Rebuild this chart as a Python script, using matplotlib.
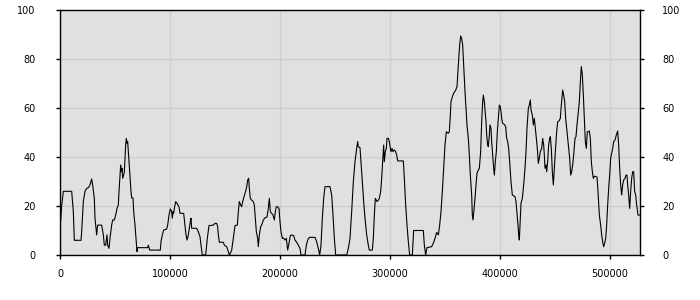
import matplotlib
matplotlib.use("Agg")
import matplotlib.pyplot as plt

positions = [
    0, 1515, 3030, 10606, 12121, 13030, 19091, 19697, 21212, 22727, 24242, 25758, 27273, 28788, 29697,
    31212, 31818, 33333, 34242, 37879, 39394, 40303, 41515, 42727, 43333, 44545, 45455, 46970, 47879,
    49394, 50606, 51818, 53030, 53636, 54545, 55152, 55758, 56364, 56970, 57879, 58485, 59091, 59697,
    60303, 60909, 61515, 62121, 63333, 64545, 65152, 66364, 66970, 68182, 69091, 70000, 70606, 79697,
    80303, 81515, 91212, 91818, 93030, 94242, 96970, 97879, 99091, 100303, 101515, 102121, 102727,
    103333, 103939, 105152, 106364, 108182, 109091, 112424, 113636, 114545, 115455, 116667, 117576,
    118485, 119091, 119697, 124242, 125758, 127273, 128182, 129394,
    130303, 132424, 133939, 135455, 139394, 140909, 142424, 143333, 143939, 144848, 148485, 149394,
    151515, 153030, 153939, 154848, 156061, 157576, 159091, 161212, 162121, 163030, 164242, 165152,
    166061, 167273, 168182, 169091, 170000, 170606, 171515, 172121, 173030, 174242, 175758, 176667,
    177576, 178485, 179697, 180303, 181212, 182424, 183333, 184848, 186364, 188182, 189394, 190303,
    191212, 192424, 193636, 194848, 195758, 196667, 197879, 199091, 200000, 200909, 202121, 203030,
    204545, 205758, 206970, 208182, 209394, 210606, 212424, 213636, 215152, 216667, 218182, 219091,
    222727, 223939, 225152, 226667, 231818, 233333, 234848, 236061, 237273, 238485, 239697, 240909,
    245455, 246970, 248182, 249394, 250606,
    260606, 262121, 263636, 265152, 266667, 268182, 269697, 270606, 271212, 272727, 273636, 274848,
    276061, 277273, 278788, 280303, 281212, 283939, 284848, 285758, 286667, 288182, 289394, 290303,
    291515, 292424, 293333, 294242, 294848, 295758, 296667, 297273, 298485, 299394, 300303, 300909,
    301818, 302727, 303939, 305152, 306061, 306970, 312121, 313030, 314242, 315455, 316667, 317879,
    320303, 321515, 330303, 331212, 332424, 333636, 337879, 339394, 340909, 342424, 343939, 345152,
    346364, 347576, 348788, 350000, 351212, 353030, 353939, 354848, 355455, 356667, 357879, 359697,
    360909, 362121, 363333, 364242, 365152, 366061, 366970, 368182, 369091, 370000, 371212, 372121,
    373030, 374242, 374848, 375455, 376061, 377273, 378182, 379091, 380303, 381212, 382424, 383333,
    384242, 384848,
    385758, 386364, 387273, 387879, 388788, 389394, 390303, 390909, 391818, 392424, 393333, 394242,
    394848, 395758, 396667, 397576, 398485, 399394, 400303, 400909, 401515, 402424, 403939, 405152,
    406061, 406970, 407879, 408788, 410000, 411212, 413636, 414545, 415455, 416364, 416970, 417576,
    418182, 419091, 420303, 421515, 422727, 423636, 424545, 425758, 426667, 427576, 428182, 429394,
    430303, 431212, 432121, 433030, 433939, 434848, 435758, 436667, 437879, 438788, 439697, 440303,
    440909, 441818, 442424, 443333, 444242, 445152, 445758, 446667, 447576, 448485, 449394, 450303,
    451515, 452424, 453636, 454848, 455758, 456970, 457879, 458788, 459697, 460909, 462121, 463333,
    464242, 465152, 466061, 466970, 468182, 469091, 470000, 471212, 472121, 473030, 473939, 474848,
    475758, 476667, 477576, 478485, 479394, 480303, 481212, 482121, 483030, 483939, 484848, 485758,
    486970, 488182, 489091, 490303, 491515, 492424, 493333, 494242, 495152, 496061, 496970, 497879,
    498788, 499697, 500606, 501515, 502424, 503333, 504545, 505758, 506970, 507879, 508788, 509697,
    510606, 511515, 512424, 513636, 514545, 515455, 516061, 516970, 517879, 518788, 519697, 520606,
    521515, 522424, 523333, 524242, 525455, 527273,
]

values = [
    10, 20, 26, 26, 17.7, 6, 6, 9.5, 21.8, 26, 27.2, 27.5, 28.6, 31, 28.6,
    23.1, 15, 8.2, 12.2, 12.2, 8.2, 4, 4, 8.2, 4, 2.7, 6.8, 12.2, 14.3,
    14.3, 16.3, 19, 20.4, 25.9, 32.6, 36.7, 34, 35.4, 31.3, 32.6, 34, 39.5, 44.9,
    47.6, 45.6, 46.3, 42.2, 34, 25.9, 23.3, 23.3, 17.7, 12.2, 6.8, 1.4, 3, 3,
    4, 2, 2, 5.4, 8.2, 10.2, 10.6, 12.2, 16.3, 18.8, 17.7, 15, 17.7,
    17, 19, 21.8, 21.1, 19.7, 17, 17, 12.2, 8.2, 6.1, 8.2, 10.9,
    13.6, 15, 10.9, 10.9, 9.5, 7.5, 4, 0,
    0, 0, 6.8, 12, 12.2, 12.9, 12.9, 11.6, 8.2, 5.2, 5.2, 4,
    3.4, 1.4, 0, 0.7, 2, 6.8, 12, 12.2, 17.7, 21.8, 20.4, 19.7,
    21.8, 23.8, 25.2, 26.5, 28.6, 30.6, 31.3, 27.2, 23.1, 22.4, 21.8, 20.4,
    15, 9.5, 6.8, 3.4, 8.2, 11.6, 12.2, 14.3, 15.2, 15.5, 19, 23.1,
    17.7, 17, 16.3, 14.3, 17.7, 19.7, 19.7, 19, 13.6, 9.5, 6.8, 7,
    6.1, 6.8, 2, 4.8, 7.9, 8.2, 7.9, 6.1, 5.2, 4, 2.7, 0,
    0, 4, 6.1, 7.2, 7.2, 5.4, 2.7, 0, 4, 15, 23.1, 27.9,
    27.9, 24.5, 16.3, 6.8, 0,
    0, 2.7, 6.8, 17.7, 29.9, 38.1, 43.5, 46.3, 44.2, 43.8, 38.1, 29.9,
    21.8, 15, 8.2, 4, 2, 2, 6.8, 16.3, 23.1, 21.8, 22.4, 23.1,
    25.9, 31.3, 38.1, 44.9, 38.1, 42.2, 43.5, 47.6, 47.6, 46.3, 43.5, 42.2,
    43.5, 42.2, 42.9, 42.2, 40.8, 38.4, 38.4, 31.3, 20.4, 12.2, 5.4, 0,
    0, 10, 10, 4, 0, 3, 3.4, 4.8, 6.8, 9.2, 8.2, 12.2,
    17.7, 25.9, 35.4, 44.9, 50.3, 49.7, 50.3, 57.1, 62.6, 64.6, 66, 67.3,
    68.7, 77.6, 85.7, 89.4, 88.4, 85.7, 77.6, 66.7, 59.9, 53.1, 47.6, 40.8,
    32.6, 24.5, 16.3, 14.3, 17, 23.1, 28.6, 33.3, 34.7, 35.4, 42.2, 54.4,
    62.6, 65.3,
    62.6, 59.2, 54.4, 49, 44.9, 44.2, 49, 53.1, 51.7, 46.3, 40.8, 35.4,
    32.6, 38.1, 42.2, 50.3, 55.8, 61.2, 60.5, 58.5, 55.8, 53.7, 53.3, 52.4,
    47.6, 46.3, 43.5, 38.1, 29.9, 24.5, 23.8, 21.8, 17, 12.2, 8.2, 6.1,
    12.2, 21.1, 23.1, 28.6, 35.4, 42.2, 51.7, 59.9, 61.2, 63.3, 59.2, 57.1,
    53.1, 55.8, 51.7, 47.6, 43.5, 37.4, 39.5, 42.2, 43.5, 47.6, 44.9, 40.8,
    35.4, 36.7, 34, 38.1, 44.9, 47.6, 48.3, 43.5, 34, 28.6, 35.4, 42.2,
    50.3, 54.4, 54.7, 55.8, 61.2, 67.3, 65.3, 62.6, 55.8, 50.3, 44.9, 39.5,
    32.6, 34, 36.7, 40.8, 47.6, 48.3, 53.1, 58.5, 62.6, 70.7, 76.9, 73.5,
    65.3, 55.8, 46.3, 43.5, 50.3, 50.3, 50.6, 47.6, 38.1, 34, 31.3, 32.1,
    32.1, 31.8, 25.9, 16.3, 12.2, 8.2, 5.4, 3.4, 4.8, 6.8, 12.2, 20.4,
    27.2, 32.6, 39.5, 41.5, 43.5, 46.3, 46.9, 49, 50.6, 44.9, 35.4, 28.6,
    24.5, 28.6, 30.6, 31.3, 32.6, 32.6, 28.6, 24.5, 19, 25.9, 31.3, 34,
    34, 25.9, 24.5, 20.4, 16.3, 16.3,
]

x_ticks = [0, 100000, 200000, 300000, 400000, 500000]
y_ticks = [0, 20, 40, 60, 80, 100]

fig = plt.figure(figsize=(7, 3), dpi=100)
ax = fig.add_axes([60 / 700, 45 / 300, 580 / 700, 245 / 300])
ax.set_facecolor("#e0e0e0")
ax.plot(positions, values, color="black", linewidth=0.8)

ax.set_xlim(0, positions[-1])
ax.set_ylim(0, 100)
ax.set_xticks(x_ticks)
ax.set_xticklabels([str(t) for t in x_ticks])
ax.set_yticks(y_ticks)
ax.set_yticklabels([str(t) for t in y_ticks])
ax.grid(True, color="#cfcfcf", linewidth=1.0)
ax.set_axisbelow(True)

for s in ax.spines.values():
    s.set_color("black")
    s.set_linewidth(1.0)

ax.tick_params(axis="both", direction="out", length=3, width=1, colors="black",
               labelsize=7, labelcolor="black")
ax.tick_params(axis="x", pad=7)
ax.tick_params(axis="y", left=True, right=True, labelleft=True, labelright=True)
for t in ax.yaxis.get_major_ticks():
    t.set_pad(14.5)
ax.yaxis.set_tick_params(which="major", pad=14.5)
for lab in ax.yaxis.get_ticklabels():
    pass

# right side labels slightly closer to the axis
for t in ax.yaxis.get_major_ticks():
    t.label2.set_x(1.0)

fig.canvas.draw()
import matplotlib.transforms as mtransforms
offset = mtransforms.ScaledTranslation(-2 / 100, 0, fig.dpi_scale_trans)
for t in ax.yaxis.get_major_ticks():
    t.label2.set_transform(t.label2.get_transform() + offset)

fig.savefig("out.png", dpi=100)
